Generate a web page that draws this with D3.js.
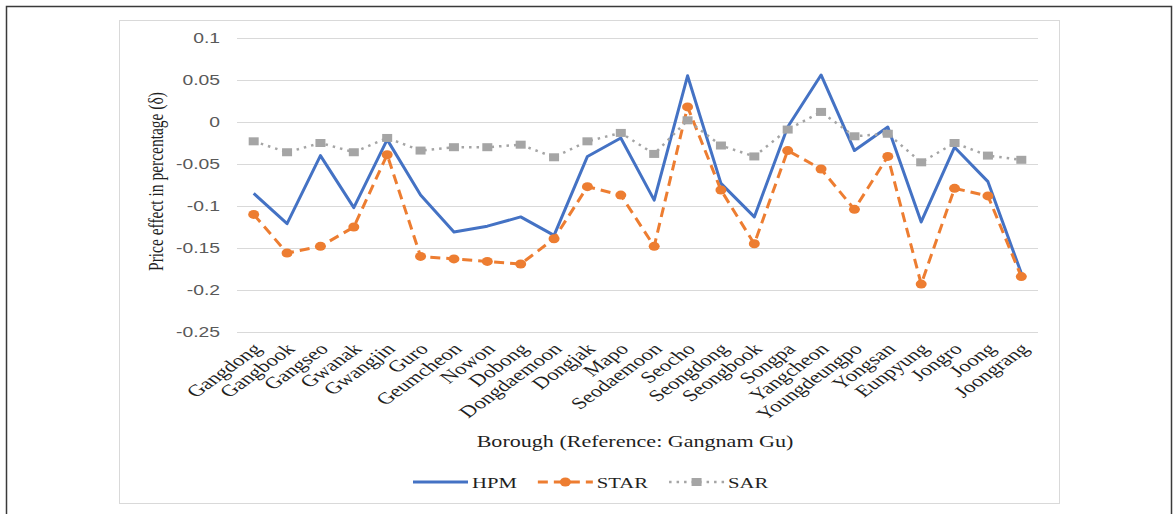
<!DOCTYPE html>
<html>
<head>
  <meta charset="UTF-8">
  <style>
    body { margin: 0; background: #fff; }
  </style>
</head>
<body>
<script type='text/javascript' src='https://d3js.org/d3.v7.min.js'></script>
<script>
var width = 1173, height = 514;

// values
var boroughs = ['Gangdong', 'Gangbook', 'Gangseo', 'Gwanak', 'Gwangjin', 'Guro', 'Geumcheon', 'Nowon',
  'Dobong', 'Dongdaemoon', 'Dongjak', 'Mapo', 'Seodaemoon', 'Seocho', 'Seongdong', 'Seongbook',
  'Songpa', 'Yangcheon', 'Youngdeungpo', 'Yongsan', 'Eunpyung', 'Jongro', 'Joong', 'Joongrang'];
var hpm = [-0.085, -0.121, -0.040, -0.102, -0.021, -0.087, -0.131, -0.124, -0.113, -0.135, -0.041, -0.019,
  -0.093, 0.055, -0.073, -0.113, -0.006, 0.056, -0.034, -0.006, -0.119, -0.030, -0.071, -0.180];
var star = [-0.110, -0.156, -0.148, -0.125, -0.039, -0.160, -0.163, -0.166, -0.169, -0.139, -0.077, -0.087,
  -0.148, 0.018, -0.081, -0.145, -0.034, -0.056, -0.104, -0.041, -0.193, -0.079, -0.088, -0.184];
var sar = [-0.023, -0.036, -0.025, -0.036, -0.019, -0.034, -0.030, -0.030, -0.027, -0.042, -0.023, -0.013,
  -0.038, 0.002, -0.028, -0.041, -0.009, 0.012, -0.017, -0.014, -0.048, -0.025, -0.040, -0.045];
var yTicks = [0.1, 0.05, 0, -0.05, -0.1, -0.15, -0.2, -0.25];
var seriesNames = ['HPM', 'STAR', 'SAR'];

var sx = 1.38; // the source image is stretched wide, text too
var serif = 'Liberation Serif';

var svg = d3.select('body').append('svg').attr('width', width).attr('height', height);

// page frame (open at the bottom) and chart box
svg.append('path')
  .attr('d', 'M6.5,' + height + 'V6.5H1171.5V' + height)
  .attr('fill', 'none').attr('stroke', '#3a3a3a').attr('stroke-width', 1.5);
svg.append('rect')
  .attr('x', 119.5).attr('y', 20.5).attr('width', 940).attr('height', 483)
  .attr('fill', 'none').attr('stroke', '#d9d9d9');

var x = d3.scaleBand().domain(boroughs).range([237, 1038]);
var y = d3.scaleLinear().domain([-0.25, 0.1]).range([332, 38]);
var cx = function(d) { return x(d) + x.bandwidth() / 2; };

// y axis with gridlines
var yAxis = svg.append('g')
  .attr('transform', 'translate(237,0)')
  .call(d3.axisLeft(y).tickValues(yTicks).tickSize(-801).tickPadding(12.3)
    .tickFormat(function(d) { return d === 0 ? '0' : String(d); }));
yAxis.select('.domain').remove();
yAxis.selectAll('.tick line').attr('stroke', '#d9d9d9');
yAxis.selectAll('.tick text')
  .attr('transform', 'scale(' + sx + ',1)')
  .attr('fill', '#595959')
  .attr('font-family', 'Liberation Sans')
  .attr('font-size', 14);

// category labels
svg.append('g').selectAll('text')
  .data(boroughs)
  .join('text')
  .attr('transform', function(d) { return 'translate(' + (cx(d) + 9) + ',350) scale(' + sx + ',1) rotate(-45)'; })
  .attr('text-anchor', 'end')
  .attr('fill', '#1f1f1f')
  .attr('font-family', serif)
  .attr('font-size', 16.5)
  .text(function(d) { return d; });

// axis titles
svg.append('text')
  .attr('transform', 'translate(635,447) scale(' + sx + ',1)')
  .attr('text-anchor', 'middle')
  .attr('fill', '#1f1f1f')
  .attr('font-family', serif).attr('font-size', 16)
  .text('Borough (Reference: Gangnam Gu)');
svg.append('text')
  .attr('transform', 'translate(163,181.5) scale(' + sx + ',1) rotate(-90)')
  .attr('text-anchor', 'middle')
  .attr('fill', '#1f1f1f')
  .attr('font-family', serif).attr('font-size', 15.5)
  .text('Price effect in percentage (δ)');

// series
var styles = {
  HPM: { color: '#4472c4', width: 3, dash: null },
  STAR: { color: '#ed7d31', width: 3, dash: '10,6' },
  SAR: { color: '#a5a5a5', width: 2.5, dash: '2.5,5' }
};
var values = { HPM: hpm, STAR: star, SAR: sar };

var line = d3.line()
  .x(function(d, i) { return cx(boroughs[i]); })
  .y(function(d) { return y(d); });

seriesNames.forEach(function(name) {
  var st = styles[name];
  svg.append('path')
    .datum(values[name])
    .attr('d', line)
    .attr('fill', 'none')
    .attr('stroke', st.color)
    .attr('stroke-width', st.width)
    .attr('stroke-dasharray', st.dash)
    .attr('stroke-linejoin', 'round');
});

// markers
svg.append('g').selectAll('rect')
  .data(sar)
  .join('rect')
  .attr('x', function(d, i) { return cx(boroughs[i]) - 5; })
  .attr('y', function(d) { return y(d) - 4; })
  .attr('width', 10).attr('height', 8)
  .attr('fill', '#a5a5a5');
svg.append('g').selectAll('ellipse')
  .data(star)
  .join('ellipse')
  .attr('cx', function(d, i) { return cx(boroughs[i]); })
  .attr('cy', function(d) { return y(d); })
  .attr('rx', 5.5).attr('ry', 4.5)
  .attr('fill', '#ed7d31');

// legend
var lx = 413, ly = 482;
seriesNames.forEach(function(name) {
  var st = styles[name];
  svg.append('line')
    .attr('x1', lx).attr('x2', lx + 55).attr('y1', ly).attr('y2', ly)
    .attr('stroke', st.color).attr('stroke-width', st.width)
    .attr('stroke-dasharray', st.dash);
  if (name === 'STAR') {
    svg.append('ellipse').attr('cx', lx + 27.5).attr('cy', ly).attr('rx', 5.5).attr('ry', 4.5)
      .attr('fill', st.color);
  }
  if (name === 'SAR') {
    svg.append('rect').attr('x', lx + 22.5).attr('y', ly - 4).attr('width', 10).attr('height', 8)
      .attr('fill', st.color);
  }
  var t = svg.append('text')
    .attr('transform', 'translate(' + (lx + 59) + ',' + (ly + 5.5) + ') scale(' + sx + ',1)')
    .attr('fill', '#1f1f1f')
    .attr('font-family', serif).attr('font-size', 15)
    .text(name);
  lx += 59 + t.node().getComputedTextLength() * sx + 21;
});
</script>
</body>
</html>
